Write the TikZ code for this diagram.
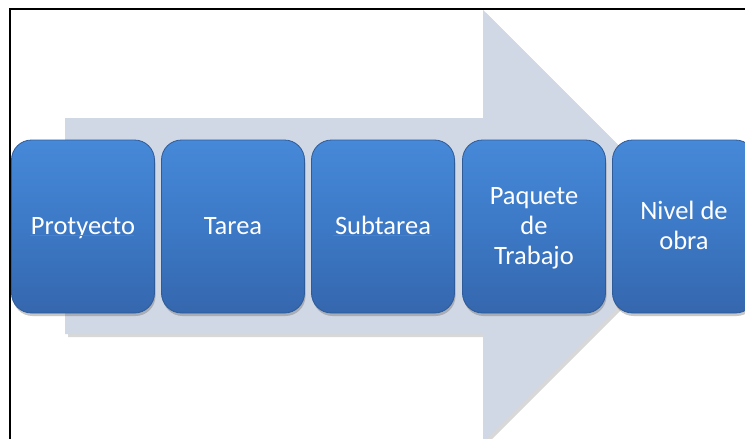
\documentclass[tikz,border=0pt]{standalone}
\usepackage{fontspec}
\setmainfont{Carlito}
\usetikzlibrary{shadows}
\definecolor{arrowfill}{HTML}{D0D7E5}
\definecolor{boxtop}{HTML}{4689D8}
\definecolor{boxmid}{HTML}{3C79C6}
\definecolor{boxbot}{HTML}{3567AE}
\definecolor{boxedge}{HTML}{2E5B99}
\definecolor{spell}{HTML}{C0508A}
\tikzset{
  stage/.style={rounded corners=20pt, minimum width=143pt, minimum height=173pt,
    inner sep=0pt, draw=boxedge, line width=0.8pt,
    top color=boxtop, bottom color=boxbot, middle color=boxmid,
    drop shadow={shadow xshift=1pt, shadow yshift=-3pt, opacity=0.3, fill=black!70}},
  lbl/.style={text=white, align=center, inner sep=0pt, font=\fontsize{26.5}{30}\selectfont},
  bigarrow/.style={fill=arrowfill, draw=none},
  frame/.style={draw=black, line width=2pt},
  spellline/.style={draw=spell, line width=1pt}
}
\begin{document}
\begin{tikzpicture}[x=1pt,y=-1pt]
\useasboundingbox (0,0) rectangle (745,439);
\clip (0,0) rectangle (745,439);
\fill[white] (0,0) rectangle (745,439);
% arrow shadow
\fill[black!25, opacity=0.6] (68,121) -- (486,121) -- (486,13) -- (702,229) -- (486,445) -- (486,337) -- (68,337) -- cycle;
\path[bigarrow] (65,118) -- (483,118) -- (483,10) -- (699,226) -- (483,442) -- (483,334) -- (65,334) -- cycle;
% frame
\draw[frame] (10,9) rectangle (800,500);
% stages
\node[stage] (p1) at (83,226.5) {};
\node[stage] (p2) at (233,226.5) {};
\node[stage] (p3) at (383,226.5) {};
\node[stage] (p4) at (534,226.5) {};
\node[stage] (p5) at (684,226.5) {};
\node[lbl] (t1) at ([yshift=-1.5pt]p1.center) {\strut Protyecto};
\node[lbl] (t2) at ([yshift=-1.5pt]p2.center) {\strut Tarea};
\node[lbl] (t3) at ([yshift=-1.5pt]p3.center) {\strut Subtarea};
\node[lbl] (t4) at ([yshift=-1.5pt]p4.center) {\strut Paquete\\\strut de\\\strut Trabajo};
\node[lbl] (t5) at ([yshift=-1.5pt]p5.center) {\strut Nivel de\\\strut obra};
% spell-check underlines
\coordinate (u1a) at (30,235.5);
\coordinate (u1b) at (134,235.5);
\coordinate (u3a) at (333,235.5);
\coordinate (u3b) at (432,235.5);
\draw[spellline] (u1a) -- (u1b);
\draw[spellline] (u3a) -- (u3b);
\end{tikzpicture}
\end{document}
